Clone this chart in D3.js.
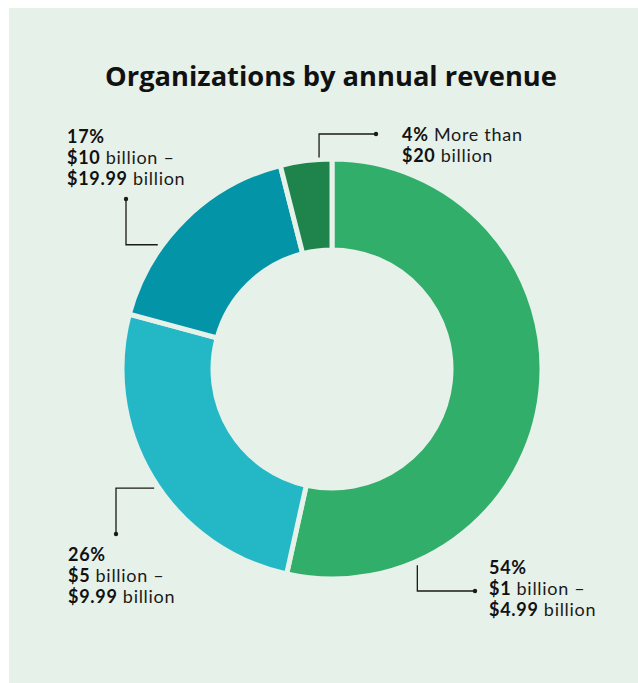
<!DOCTYPE html>
<html>
<head>
<meta charset="utf-8">
<script src="https://cdn.jsdelivr.net/npm/d3@7"></script>
<style>
  html, body { margin: 0; padding: 0; background: #fff; }
  svg { display: block; }
</style>
</head>
<body>
<div id="main-container"></div>
<script>
// Data
const CATEGORIES = ['$1 billion – $4.99 billion', '$5 billion – $9.99 billion', '$10 billion – $19.99 billion', 'More than $20 billion'];
const SHARES = [54, 26, 17, 4];
const COLORS = ['#31ae6a', '#24b8c6', '#0394a8', '#1e844c'];
// label lines, each line is [bold part, light part]
const LABEL_LINES = [
    [['54%', ''], ['$1', ' billion –'], ['$4.99', ' billion']],
    [['26%', ''], ['$5', ' billion –'], ['$9.99', ' billion']],
    [['17%', ''], ['$10', ' billion –'], ['$19.99', ' billion']],
    [['4%', ' More than'], ['$20', ' billion']]
];

const WIDTH = 638;
const HEIGHT = 683;
const CENTER = { x: 332, y: 369 };
const OUTER_R = 210;
const INNER_R = 119;
const BG = '#e6f1e9';
const FONT = "'Open Sans', 'Noto Sans', sans-serif";
const LABEL_FONT = "Lato, 'Open Sans', sans-serif";
const LINE_H = 21;

// leader + label layout (angle in degrees clockwise from top)
const LAYOUT = [
    { angle: 156.5, r: 214, route: 'vh', dot: [475, 591], text: [489, 574] },
    { angle: 236.2, r: 214, route: 'hv', dot: [116, 534], text: [68, 561] },
    { angle: 305.5, r: 214, route: 'hv', dot: [126, 199], text: [67, 143] },
    { angle: 356.5, r: 212, route: 'vh', dot: [376, 134], text: [402, 141] }
];

const svg = d3.select('#main-container').append('svg')
    .attr('width', WIDTH)
    .attr('height', HEIGHT);

// panel
svg.append('rect')
    .attr('x', 9).attr('y', 8)
    .attr('width', WIDTH - 9).attr('height', HEIGHT - 8)
    .attr('fill', BG);

// title
const title = svg.append('text')
    .attr('x', 331)
    .attr('y', 86)
    .attr('text-anchor', 'middle')
    .style('font-family', FONT)
    .style('font-weight', 700)
    .style('font-size', '28px')
    .attr('fill', '#111')
    .text('Organizations by annual revenue');
const tLen = title.node().getComputedTextLength();
title.style('font-size', (28 * 452 / tLen).toFixed(2) + 'px');

// donut
const pie = d3.pie().sort(null).value(d => d)(SHARES);
const arc = d3.arc().innerRadius(INNER_R).outerRadius(OUTER_R);

const donut = svg.append('g')
    .attr('transform', `translate(${CENTER.x}, ${CENTER.y})`);

donut.selectAll('path')
    .data(pie)
    .join('path')
    .attr('d', arc)
    .attr('fill', (d, i) => COLORS[i])
    .attr('stroke', BG)
    .attr('stroke-width', 5)
    .attr('stroke-linejoin', 'miter');

// leaders
const leaders = svg.append('g');
LAYOUT.forEach((l, i) => {
    const a = l.angle * Math.PI / 180;
    const sx = CENTER.x + Math.sin(a) * l.r;
    const sy = CENTER.y - Math.cos(a) * l.r;
    const [dx, dy] = l.dot;
    const path = l.route === 'hv'
        ? `M${sx},${sy}H${dx}V${dy}`
        : `M${sx},${sy}V${dy}H${dx}`;
    leaders.append('path')
        .attr('d', path)
        .attr('fill', 'none')
        .attr('stroke', '#1a1a1a')
        .attr('stroke-width', 1.3);
    leaders.append('circle')
        .attr('cx', dx).attr('cy', dy).attr('r', 2.2)
        .attr('fill', '#1a1a1a');
});

// labels, one text per line
const labels = svg.append('g')
    .style('font-family', LABEL_FONT)
    .style('font-size', '18px')
    .style('letter-spacing', '0.7px')
    .attr('fill', '#111');

LAYOUT.forEach((l, i) => {
    LABEL_LINES[i].forEach((line, j) => {
        const t = labels.append('text')
            .attr('x', l.text[0])
            .attr('y', l.text[1] + j * LINE_H);
        t.append('tspan')
            .style('font-weight', 700)
            .text(line[0]);
        if (line[1]) {
            t.append('tspan')
                .style('font-weight', 400)
                .attr('fill', '#1a1a1a')
                .text(line[1]);
        }
    });
});
</script>
</body>
</html>
